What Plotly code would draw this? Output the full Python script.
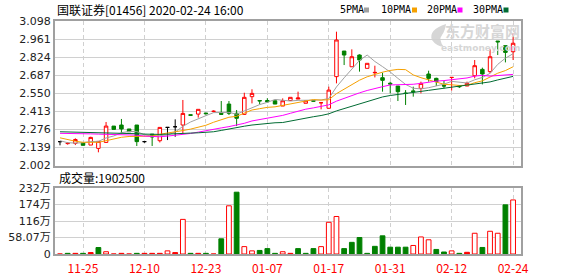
import plotly.graph_objects as go

# ---------------- data ----------------
idx = list(range(60))
tick_idx = [3, 11, 19, 27, 35, 43, 51, 59]
tick_labels = ['11-25', '12-10', '12-23', '01-07', '01-17', '01-31', '02-12', '02-24']

open_ = [2.183, 2.168, 2.170, 2.175, 2.157, 2.132, 2.177, 2.301, 2.309, 2.279,
         2.309, 2.183, 2.240, 2.190, 2.291, 2.296, 2.309, 2.387, 2.392, 2.400,
         2.413, 2.398, 2.468, 2.398, 2.390, 2.524, 2.495, 2.495, 2.493, 2.453,
         2.495, 2.506, 2.474, 2.495, 2.478, 2.436, 2.676, 2.870, 2.751, 2.840,
         2.739, 2.705, 2.668, 2.626, 2.605, 2.552, 2.568, 2.587, 2.696, 2.663,
         2.608, 2.670, 2.605, 2.605, 2.683, 2.731, 2.714, 2.946, 2.911, 2.865]
high = [2.183, 2.178, 2.208, 2.175, 2.220, 2.185, 2.332, 2.301, 2.355, 2.279,
        2.309, 2.183, 2.240, 2.291, 2.291, 2.352, 2.499, 2.387, 2.428, 2.400,
        2.420, 2.491, 2.491, 2.423, 2.554, 2.580, 2.495, 2.512, 2.493, 2.511,
        2.519, 2.562, 2.493, 2.497, 2.478, 2.600, 3.017, 2.870, 2.883, 2.845,
        2.777, 2.759, 2.706, 2.638, 2.605, 2.574, 2.600, 2.638, 2.721, 2.668,
        2.643, 2.672, 2.610, 2.638, 2.802, 2.744, 2.883, 2.946, 2.911, 3.004]
low = [2.155, 2.160, 2.157, 2.155, 2.157, 2.102, 2.177, 2.276, 2.246, 2.258,
       2.150, 2.175, 2.150, 2.177, 2.195, 2.220, 2.246, 2.383, 2.365, 2.390,
       2.405, 2.385, 2.385, 2.301, 2.385, 2.473, 2.466, 2.480, 2.468, 2.453,
       2.495, 2.506, 2.474, 2.488, 2.428, 2.436, 2.625, 2.764, 2.751, 2.714,
       2.739, 2.670, 2.562, 2.549, 2.491, 2.461, 2.524, 2.549, 2.638, 2.605,
       2.587, 2.570, 2.590, 2.605, 2.663, 2.617, 2.701, 2.840, 2.784, 2.802]
close = [2.183, 2.170, 2.199, 2.155, 2.215, 2.185, 2.301, 2.276, 2.279, 2.258,
         2.183, 2.183, 2.218, 2.291, 2.291, 2.296, 2.397, 2.383, 2.428, 2.395,
         2.413, 2.390, 2.398, 2.360, 2.519, 2.549, 2.492, 2.485, 2.468, 2.493,
         2.519, 2.514, 2.493, 2.490, 2.478, 2.574, 2.954, 2.840, 2.827, 2.802,
         2.777, 2.708, 2.648, 2.620, 2.562, 2.548, 2.562, 2.625, 2.663, 2.638,
         2.605, 2.670, 2.600, 2.625, 2.759, 2.696, 2.827, 2.940, 2.860, 2.929]
# u = up (hollow red), d = down (green), r = red solid, k = black flat
candle_style = ['k', 'r', 'u', 'd', 'u', 'u', 'u', 'd', 'd', 'd',
                'd', 'k', 'd', 'u', 'k', 'k', 'u', 'd', 'u', 'd',
                'r', 'd', 'd', 'd', 'u', 'u', 'd', 'd', 'd', 'u',
                'u', 'r', 'u', 'd', 'r', 'u', 'u', 'd', 'u', 'd',
                'u', 'r', 'd', 'd', 'd', 'd', 'd', 'u', 'd', 'd',
                'd', 'r', 'd', 'u', 'u', 'd', 'u', 'd', 'd', 'u']

# volume in 万 (10,000 shares)
volume_wan = [0, 2.3, 2.3, 2.3, 5, 22.8, 8, 0, 2.3, 0,
              2.3, 2.3, 2.3, 2.3, 11, 5, 121.8, 2.3, 2.3, 2.3,
              0, 53.5, 169.6, 217.5, 26, 11, 12.5, 19, 2.3, 8,
              2.3, 19, 2.3, 19, 26, 111.6, 132, 19, 41, 58,
              2.3, 27, 64, 24, 24, 24, 30, 60, 50, 16,
              7, 11, 2.3, 6, 73, 23, 80, 73, 173, 190.25]
volume_style = ['u', 'd', 'r', 'd', 'r', 'd', 'u', 'u', 'r', 'u',
                'd', 'r', 'r', 'r', 'u', 'r', 'u', 'd', 'r', 'd',
                'u', 'd', 'u', 'd', 'u', 'u', 'd', 'd', 'd', 'u',
                'r', 'd', 'd', 'd', 'u', 'u', 'u', 'd', 'd', 'd',
                'd', 'd', 'd', 'd', 'd', 'd', 'u', 'u', 'u', 'd',
                'd', 'u', 'd', 'r', 'u', 'd', 'u', 'u', 'd', 'u']

ma5 = [2.190, 2.175, 2.172, 2.175, 2.184, 2.185, 2.211, 2.226, 2.251, 2.260,
       2.259, 2.236, 2.224, 2.227, 2.233, 2.256, 2.299, 2.332, 2.359, 2.380,
       2.403, 2.402, 2.405, 2.391, 2.416, 2.443, 2.464, 2.481, 2.503, 2.497,
       2.491, 2.496, 2.497, 2.502, 2.499, 2.510, 2.598, 2.667, 2.735, 2.799,
       2.840, 2.791, 2.752, 2.711, 2.663, 2.617, 2.588, 2.583, 2.592, 2.607,
       2.619, 2.640, 2.635, 2.628, 2.652, 2.670, 2.701, 2.769, 2.816, 2.850]
ma10 = [2.212, 2.198, 2.186, 2.178, 2.177, 2.178, 2.190, 2.205, 2.216, 2.222,
        2.222, 2.223, 2.225, 2.239, 2.247, 2.258, 2.267, 2.278, 2.293, 2.307,
        2.330, 2.350, 2.368, 2.375, 2.398, 2.423, 2.433, 2.443, 2.447, 2.457,
        2.467, 2.480, 2.489, 2.502, 2.498, 2.501, 2.547, 2.582, 2.618, 2.649,
        2.675, 2.694, 2.710, 2.723, 2.731, 2.729, 2.689, 2.668, 2.652, 2.635,
        2.618, 2.614, 2.609, 2.610, 2.630, 2.644, 2.671, 2.702, 2.722, 2.751]
ma20 = [2.246, 2.246, 2.245, 2.244, 2.242, 2.240, 2.238, 2.236, 2.236, 2.235,
        2.232, 2.225, 2.220, 2.220, 2.225, 2.231, 2.237, 2.245, 2.255, 2.264,
        2.276, 2.287, 2.297, 2.307, 2.322, 2.340, 2.350, 2.360, 2.370, 2.382,
        2.398, 2.415, 2.429, 2.439, 2.448, 2.462, 2.490, 2.513, 2.533, 2.553,
        2.571, 2.587, 2.600, 2.613, 2.615, 2.615, 2.618, 2.625, 2.635, 2.642,
        2.646, 2.654, 2.660, 2.666, 2.680, 2.686, 2.680, 2.685, 2.687, 2.693]
ma30 = [2.258, 2.257, 2.256, 2.254, 2.250, 2.248, 2.247, 2.246, 2.246, 2.245,
        2.243, 2.240, 2.238, 2.238, 2.240, 2.244, 2.246, 2.248, 2.250, 2.254,
        2.258, 2.268, 2.280, 2.290, 2.300, 2.309, 2.316, 2.322, 2.326, 2.328,
        2.340, 2.351, 2.361, 2.372, 2.381, 2.394, 2.416, 2.434, 2.453, 2.471,
        2.491, 2.508, 2.522, 2.533, 2.542, 2.551, 2.556, 2.564, 2.572, 2.580,
        2.587, 2.596, 2.603, 2.612, 2.620, 2.625, 2.636, 2.651, 2.664, 2.678]

price_ticks = [2.002, 2.139, 2.276, 2.413, 2.550, 2.687, 2.824, 2.961, 3.098]
vol_ticks = [0, 58.07, 116.14, 174.21, 232.28]
vol_tick_text = ['0', '58.07万', '116万', '174万', '232万']

title_text = '国联证券[01456] 2020-02-24 16:00'
ma_names = ['5PMA', '10PMA', '20PMA', '30PMA']

# ---------------- style ----------------
RED = '#ff0000'
GREEN = '#008000'
MA_COLORS = ['#a0a0a0', '#f5a000', '#ff00ff', '#006b33']
GRID = '#d0d0d0'
BORDER = '#a0a0a0'
WM = '#d6d6d6'
W, H = 578, 276
ML, MR, MT, MB = 55, 57, 21, 22
PW, PH = W - ML - MR, H - MT - MB


def px_x(p):
    return (p - ML) / PW


def px_y(p):
    return (H - MB - p) / PH


candle_colors = {
    'u': (RED, '#ffffff'),
    'r': (RED, RED),
    'd': (GREEN, GREEN),
    'k': ('#000000', '#000000'),
}
vol_colors = {
    'u': (RED, '#ffffff'),
    'r': (RED, RED),
    'd': (GREEN, GREEN),
}

fig = go.Figure()

# volume bars
fig.add_trace(go.Bar(
    x=idx, y=volume_wan, width=0.62,
    marker=dict(color=[vol_colors[s][1] for s in volume_style],
                line=dict(color=[vol_colors[s][0] for s in volume_style], width=1)),
    xaxis='x2', yaxis='y2', showlegend=False, hoverinfo='skip'))

# candles
for code, (lc, fc) in candle_colors.items():
    sel = [i for i in idx if candle_style[i] == code]
    if not sel:
        continue
    side = dict(line=dict(color=lc, width=1), fillcolor=fc)
    fig.add_trace(go.Candlestick(
        x=[idx[i] for i in sel],
        open=[open_[i] for i in sel], high=[high[i] for i in sel],
        low=[low[i] for i in sel], close=[close[i] for i in sel],
        increasing=side, decreasing=side, whiskerwidth=0,
        xaxis='x', yaxis='y', showlegend=False, hoverinfo='skip'))

# moving averages
for name, vals, col in zip(ma_names, [ma5, ma10, ma20, ma30], MA_COLORS):
    fig.add_trace(go.Scatter(x=idx, y=vals, mode='lines', name=name,
                             line=dict(color=col, width=1),
                             xaxis='x', yaxis='y', showlegend=False, hoverinfo='skip'))

main_dom = [px_y(165.5), 1.0]
vol_dom = [0.0, px_y(188)]
xr = [-0.65, 60.03]

axis_common = dict(showline=True, linecolor=BORDER, linewidth=2, mirror=True,
                   zeroline=False, fixedrange=True, automargin=False)

fig.update_layout(
    template='none',
    width=W, height=H, margin=dict(l=ML, r=MR, t=MT, b=MB, autoexpand=False),
    paper_bgcolor='white', plot_bgcolor='white',
    boxgap=0.35,
    font=dict(family='DejaVu Sans', size=11, color='#222222'),
    xaxis=dict(domain=[0, 1], anchor='y', range=xr, tickvals=tick_idx,
               showticklabels=False, showgrid=True, gridcolor=GRID,
               griddash='4px,3px', gridwidth=1, ticks='', rangeslider=dict(visible=False),
               **axis_common),
    yaxis=dict(domain=main_dom, anchor='x', range=[price_ticks[0], price_ticks[-1]],
               tickvals=price_ticks, tickformat='.3f', showgrid=True,
               gridcolor=GRID, gridwidth=1, ticks='',
               tickfont=dict(family='DejaVu Sans', size=11, color='#222222'),
               **axis_common),
    xaxis2=dict(domain=[0, 1], anchor='y2', range=xr, tickvals=tick_idx,
                ticktext=tick_labels, showgrid=True, gridcolor=GRID,
                griddash='4px,3px', gridwidth=1, ticks='outside', ticklen=3,
                tickcolor='rgba(0,0,0,0)',
                tickfont=dict(family='Noto Sans CJK SC', size=12, color=RED),
                **axis_common),
    yaxis2=dict(domain=vol_dom, anchor='x2', range=[vol_ticks[0], vol_ticks[-1]],
                tickvals=vol_ticks, ticktext=vol_tick_text, showgrid=True,
                gridcolor=GRID, gridwidth=1, ticks='',
                tickfont=dict(family='DejaVu Sans, Noto Sans CJK SC', size=11, color='#222222'),
                **axis_common),
)

ann = []
ann.append(dict(text=title_text, x=0, y=px_y(10), xref='paper', yref='paper',
                xanchor='left', yanchor='middle', showarrow=False,
                font=dict(family='Noto Sans CJK SC', size=12, color='#000000')))
ann.append(dict(text='成交量:%d' % round(volume_wan[-1] * 10000), x=px_x(57), y=px_y(177),
                xref='paper', yref='paper', xanchor='left', yanchor='middle',
                showarrow=False,
                font=dict(family='Noto Sans CJK SC', size=12, color='#000000')))

legend_x = [337.5, 378.5, 424.5, 470.5]
for name, col, lx in zip(ma_names, MA_COLORS, legend_x):
    ann.append(dict(text=name, x=px_x(lx), y=px_y(10), xref='paper', yref='paper',
                    xanchor='left', yanchor='middle', showarrow=False,
                    font=dict(family='DejaVu Sans Mono', size=10, color='#000000')))

# watermark
ann.append(dict(text='<b>东方财富网</b>', x=px_x(522), y=px_y(31), xref='paper', yref='paper',
                xanchor='right', yanchor='middle', showarrow=False,
                font=dict(family='Noto Sans CJK SC', size=15, color=WM)))
ann.append(dict(text='<b>eastmoney.com</b>', x=px_x(522), y=px_y(48), xref='paper', yref='paper',
                xanchor='right', yanchor='middle', showarrow=False,
                font=dict(family='DejaVu Sans', size=9, color=WM)))

shapes = []
sq_x = [364, 412, 457.5, 503.5]
for col, sx in zip(MA_COLORS, sq_x):
    shapes.append(dict(type='rect', xref='paper', yref='paper',
                       x0=px_x(sx), x1=px_x(sx + 5), y0=px_y(12.5), y1=px_y(7.5),
                       fillcolor=col, line=dict(width=0)))

# watermark logo (rough swoosh)
def P(x, y):
    return '%.4f %.4f' % (px_x(x), px_y(y))

logo = ('M ' + P(446, 24) + ' Q ' + P(428, 30) + ' ' + P(432, 40) +
        ' Q ' + P(436, 46) + ' ' + P(444, 47) + ' Q ' + P(438, 40) + ' ' + P(442, 35) +
        ' Q ' + P(445, 31) + ' ' + P(446, 24) + ' Z')
shapes.append(dict(type='path', xref='paper', yref='paper', path=logo,
                   fillcolor=WM, line=dict(width=0), layer='below'))

fig.update_layout(annotations=ann, shapes=shapes)

fig.write_html('out.html', post_script="document.body.style.margin='0';")
